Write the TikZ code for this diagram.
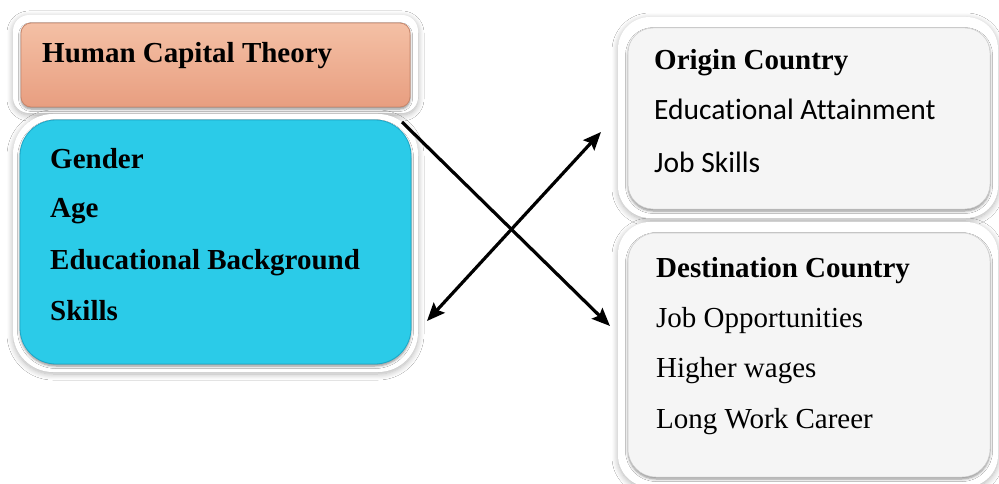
\documentclass[tikz,border=0pt]{standalone}
\usepackage{fontspec}
\setmainfont{Liberation Serif}
\newfontfamily\calib[Ligatures={NoCommon}]{Carlito}
\usetikzlibrary{shadows.blur,arrows.meta}
\definecolor{salT}{HTML}{F4C0A5}
\definecolor{salB}{HTML}{E89E80}
\definecolor{salD}{HTML}{C9876B}
\definecolor{cyanF}{HTML}{2BCBE8}
\definecolor{cyanD}{HTML}{1BA8C8}
\definecolor{grayF}{HTML}{F5F5F5}
\begin{document}
\begin{tikzpicture}[x=1pt,y=-1pt,
  frame/.style={fill=white, rounded corners=#1, inner sep=0pt,
    blur shadow={shadow blur steps=10, shadow xshift=0pt, shadow yshift=-2pt, shadow blur radius=6pt, shadow opacity=30}},
  panel/.style={rounded corners=#1, inner sep=0pt,
    blur shadow={shadow blur steps=5, shadow xshift=0pt, shadow yshift=-2pt, shadow blur radius=2.5pt, shadow opacity=45}},
  txt/.style={anchor=base west, inner sep=0pt, font=\fontsize{29}{35}\selectfont},
  btxt/.style={anchor=base west, inner sep=0pt, font=\fontsize{29}{35}\selectfont\bfseries},
  ctxt/.style={anchor=base west, inner sep=0pt, font=\fontsize{29.5}{35}\selectfont\calib},
  tip/.tip={Stealth[length=18pt,width=15pt,inset=3pt]},
  arr/.style={line width=3.2pt, black}
]
\useasboundingbox (0,0) rectangle (999,484);
\fill[white] (0,0) rectangle (999,484);

% Human Capital Theory
\node[frame=16pt, minimum width=405pt, minimum height=98pt] (hctf) at (215.5,64) {};
\node[panel=10pt, top color=salT, bottom color=salB, draw=salD, line width=0.8pt,
      minimum width=389pt, minimum height=84pt] (hct) at (215.5,65) {};
\node[btxt] (t1) at (42,63) {Human Capital Theory};

% Cyan box
\node[frame=40pt, minimum width=405pt, minimum height=258pt] (cyf) at (215.5,243) {};
\node[panel=36pt, fill=cyanF, draw=cyanD, line width=0.8pt,
      minimum width=391pt, minimum height=244pt] (cy) at (215.5,242) {};
\node[btxt] (g1) at (50,168) {Gender};
\node[btxt] (g2) at (50,218) {Age};
\node[btxt] (g3) at (50,269) {Educational Background};
\node[btxt] (g4) at (50,320) {Skills};

% Origin
\node[frame=32pt, minimum width=380pt, minimum height=201pt] (orf) at (808,117.5) {};
\node[panel=25pt, fill=grayF, draw=gray!40, line width=0.5pt,
      minimum width=362pt, minimum height=181pt] (or) at (809,118.5) {};
\node[btxt] (o1) at (654,70) {Origin Country};
\node[ctxt] (o2) at (654,120) {Educational Attainment};
\node[ctxt] (o3) at (654,173) {Job Skills};

% Destination
\node[frame=32pt, minimum width=380pt, minimum height=265pt] (def) at (808,354.5) {};
\node[panel=28pt, fill=grayF, draw=gray!40, line width=0.5pt,
      minimum width=362pt, minimum height=244pt] (de) at (809,355) {};
\node[btxt] (d1) at (656,277) {Destination Country};
\node[txt] (d2) at (656,327) {Job Opportunities};
\node[txt] (d3) at (656,377) {Higher wages};
\node[txt] (d4) at (656,428) {Long Work Career};

% Arrows
\coordinate (p1) at (402,122);
\coordinate (p2) at (610,326);
\coordinate (q1) at (601,132);
\coordinate (q2) at (427,321);
\draw[arr, -tip] (p1) -- (p2);
\draw[arr, tip-tip] (q1) -- (q2);
\end{tikzpicture}
\end{document}
